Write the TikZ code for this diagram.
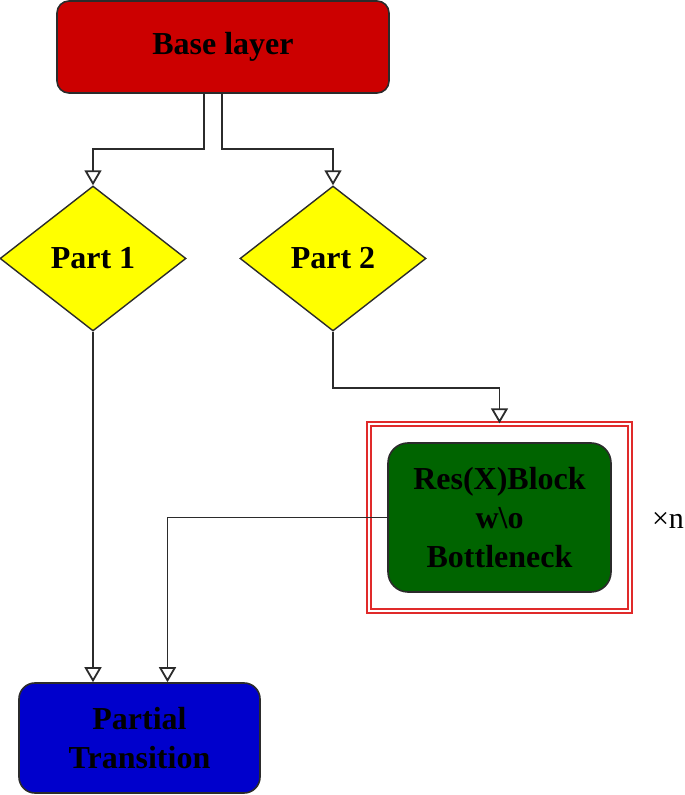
\documentclass[tikz,border=0pt]{standalone}
\usepackage{fontspec}
\setmainfont{Liberation Serif}
\usepackage{tikz}
\usetikzlibrary{arrows.meta,positioning,fit,shapes.geometric}
\definecolor{basered}{HTML}{CC0000}
\definecolor{partyellow}{HTML}{FFFF00}
\definecolor{blockgreen}{HTML}{006400}
\definecolor{transblue}{HTML}{0000CC}
\definecolor{framered}{HTML}{E02A2A}
\definecolor{wire}{HTML}{2B2B2B}

\begin{document}
\begin{tikzpicture}[x=1pt,y=1pt,every node/.style={font=\fontsize{32}{39}\selectfont\bfseries,align=center},box/.style={draw=wire,line width=1.6pt,rounded corners=12pt,inner sep=0pt},part/.style={diamond,draw=wire,fill=partyellow,line width=1.4pt,minimum width=186pt,minimum height=145pt,inner sep=0pt,aspect=1.28},link/.style={-{Triangle[open,length=15pt,width=17pt]},line width=1.8pt,draw=wire}]
\useasboundingbox (0,0) rectangle (685,795);
\node[box,fill=basered,minimum width=332pt,minimum height=92pt] (base) at (223,748) {Base layer};
\node[part] (part1) at (93,536.5) {Part 1};
\node[part] (part2) at (333,536.5) {Part 2};
\node[box,fill=blockgreen,rounded corners=20pt,minimum width=223pt,minimum height=149pt] (block) at (499.5,277.5) {Res(X)Block\\w\textbackslash o\\Bottleneck};
\node[draw=framered,double=white,double distance=2.2pt,line width=1.8pt,fit=(block),inner sep=18pt] (frame) {};
\node[font=\fontsize{30}{36}\selectfont] (times) at (668,275) {×n};
\node[box,fill=transblue,rounded corners=16pt,minimum width=241pt,minimum height=110pt] (trans) at (139.5,57) {Partial\\Transition};
\draw[link] ([xshift=-19pt]base.south) -- ++(0,-55) -| (part1.north);
\draw[link] ([xshift=-1pt]base.south) -- ++(0,-55) -| (part2.north);
\draw[link] (part2.south) -- ++(0,-56) -| (frame.north);
\draw[link] (part1.south) -- (part1.south |- trans.north);
\draw[link] (block.west) -| ([xshift=28pt]trans.north);
\end{tikzpicture}
\end{document}
